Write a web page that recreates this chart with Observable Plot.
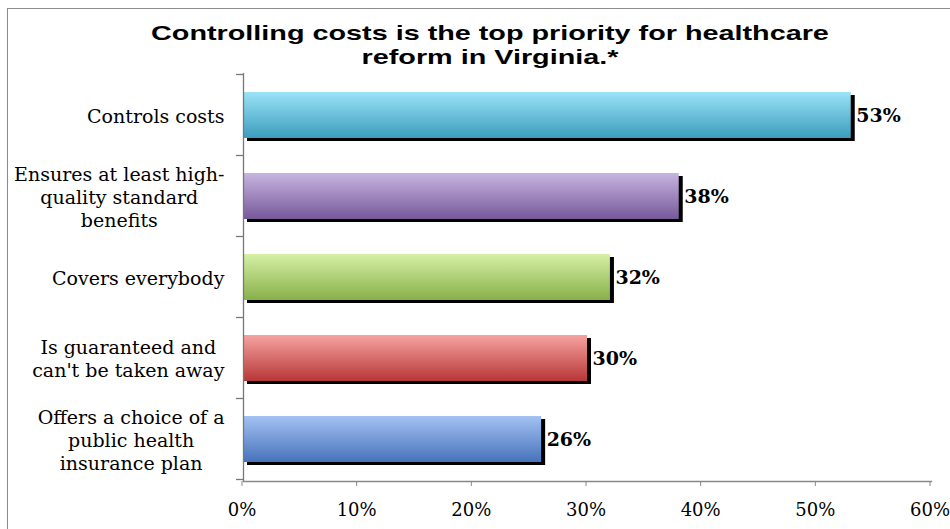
<!DOCTYPE html>
<html><head><meta charset="utf-8">
<script src="https://cdn.jsdelivr.net/npm/d3@7"></script>
<script src="https://cdn.jsdelivr.net/npm/@observablehq/plot@0.6"></script>
<style>
html,body{margin:0;padding:0;background:#fff;}
#wrap{position:relative;width:950px;height:529px;overflow:hidden;background:#fff;}
#frame{position:absolute;left:7px;top:8px;width:1000px;height:600px;border:1.5px solid #8c8c8c;box-sizing:border-box;}
#title{position:absolute;left:0;width:980px;top:21px;text-align:center;font-family:"Liberation Sans",Arial,sans-serif;font-weight:bold;font-size:21px;line-height:24px;color:#000;transform:scaleX(1.37);transform-origin:490px 0;}
#chart{position:absolute;left:0;top:0;}
</style></head>
<body><div id="wrap"><div id="frame"></div><div id="chart"></div><div id="title">Controlling costs is the top priority for healthcare<br>reform in Virginia.*</div></div>
<script>
const categories = [
  "Controls costs",
  "Ensures at least high-quality standard benefits",
  "Covers everybody",
  "Is guaranteed and can't be taken away",
  "Offers a choice of a public health insurance plan"
];
const yTickLabels = [
  "Controls costs",
  "Ensures at least high-\nquality standard\nbenefits",
  "Covers everybody",
  "Is guaranteed and\ncan't be taken away",
  "Offers a choice of a\npublic health\ninsurance plan"
];
const values = [0.53, 0.38, 0.32, 0.30, 0.26];
const xTicks = [0, 0.1, 0.2, 0.3, 0.4, 0.5, 0.6];
const gradTop = ["#9be2f7", "#c7b5e1", "#d5f0a5", "#f6a3a0", "#a4c1f3"];
const gradBottom = ["#3b9dbd", "#775899", "#88b049", "#b73737", "#4673bb"];

const data = categories.map((c, i) => ({category: c, value: values[i], grad: `url(#grad${i})`}));

const defs = () => {
  const g = d3.create("svg:defs");
  categories.forEach((c, i) => {
    const lg = g.append("linearGradient").attr("id", "grad" + i)
      .attr("x1", 0).attr("y1", 0).attr("x2", 0).attr("y2", 1);
    lg.append("stop").attr("offset", "0%").attr("stop-color", gradTop[i]);
    lg.append("stop").attr("offset", "100%").attr("stop-color", gradBottom[i]);
  });
  return g.node();
};

const serif = "'DejaVu Serif', 'Liberation Serif', serif";
const chart = Plot.plot({
  width: 950,
  height: 529,
  marginTop: 73,
  marginBottom: 48,
  marginLeft: 243,
  marginRight: 19,
  style: {fontFamily: serif, fontSize: "19px", color: "#000", background: "transparent"},
  x: {domain: [0, 0.6]},
  y: {domain: categories, paddingInner: 0.436, paddingOuter: 0.218},
  color: {type: "identity"},
  marks: [
    defs,
    Plot.barX(data, {y: "category", x: "value", fill: "#000", dx: 4, dy: 3}),
    Plot.barX(data, {y: "category", x: "value", fill: "grad"}),
    Plot.ruleX([0], {stroke: "#777", strokeWidth: 1.3}),
    Plot.frame({anchor: "bottom", stroke: "#888", strokeWidth: 1.3}),
    Plot.axisX({ticks: xTicks, tickFormat: d3.format(".0%"), tickSize: 5, tickPadding: 17, stroke: "#888", fontSize: 18, dx: -1.5, label: null}),
    Plot.axisY({tickSize: 0, tickPadding: 19, lineHeight: 1.2, fontSize: 19, label: null,
      tickFormat: d => yTickLabels[categories.indexOf(d)]}),
    Plot.text(data, {y: "category", x: "value", text: d => Math.round(d.value * 100) + "%",
      dx: 5, textAnchor: "start", fontWeight: "bold", fontSize: 19, fill: "#000"})
  ]
});
document.getElementById("chart").appendChild(chart);

// category boundary ticks on the y axis, from the library's scales
const ys = chart.scale("y");
const xs = chart.scale("x");
const x0 = xs.apply(0);
const gap = (ys.step - ys.bandwidth) / 2;
const bounds = categories.map(c => ys.apply(c) - gap);
bounds.push(bounds[bounds.length - 1] + ys.step);
const svg = d3.select(chart);
const tg = svg.append("g").attr("stroke", "#777").attr("stroke-width", 1.3);
bounds.forEach(b => tg.append("line").attr("x1", x0 - 7).attr("x2", x0).attr("y1", b).attr("y2", b));

// center each multi-line category label within its own block, right-aligned as a block
svg.selectAll('g[aria-label="y-axis tick label"] text').each(function () {
  const w = this.getBBox().width;
  this.setAttribute("text-anchor", "middle");
  const t = this.getAttribute("transform") || "";
  this.setAttribute("transform", t + ` translate(${-w / 2},0)`);
});
</script>
</body></html>
